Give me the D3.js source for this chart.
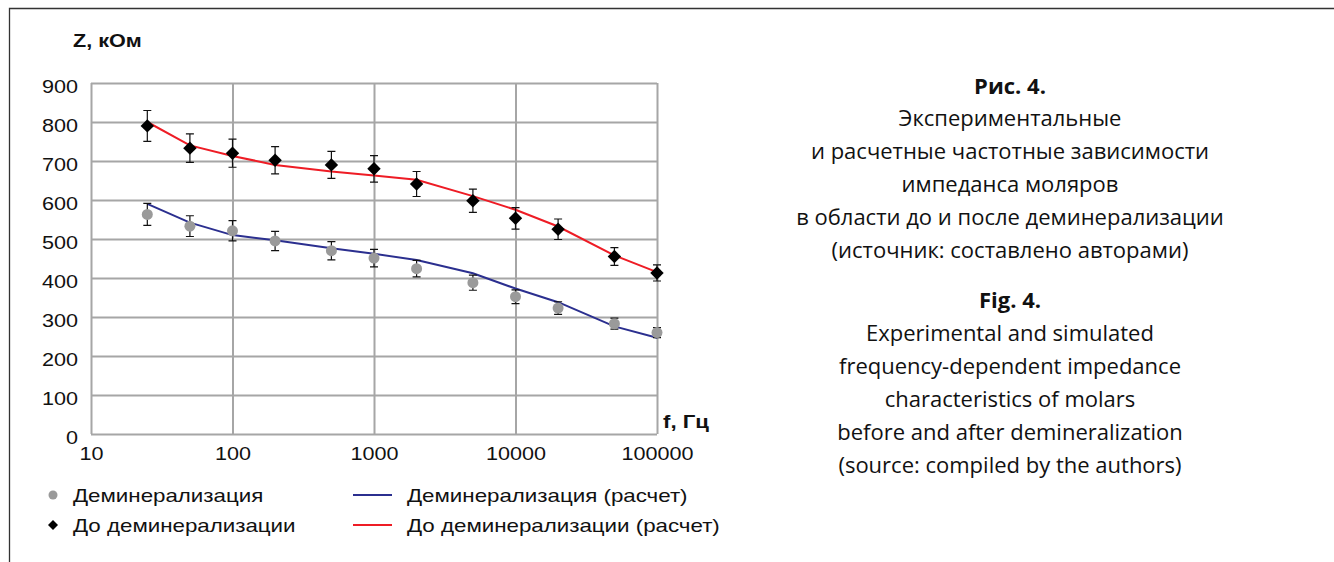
<!DOCTYPE html>
<html>
<head>
<meta charset="utf-8">
<script src="https://cdn.jsdelivr.net/npm/d3@7"></script>
<style>
  html, body { margin: 0; padding: 0; background: #fff; }
  svg { display: block; }
  .chart-text { font-family: "Liberation Sans", Arial, sans-serif; fill: #111; }
  .caption { font-family: "Open Sans", "Noto Sans", sans-serif; fill: #111; }
</style>
</head>
<body>
<svg id="fig" width="1334" height="562"></svg>
<script>
// Frequencies, Hz
const freq = [25, 50, 100, 200, 500, 1000, 2000, 5000, 10000, 20000, 50000, 100000];

// Impedance, kOhm
const beforeMeasured = [790, 733, 720, 702, 690, 680, 641, 598, 553, 525, 455, 413];
const beforeCalc     = [800, 740, 713, 690, 673, 663, 652, 610, 575, 532, 458, 415];
const afterMeasured  = [563, 533, 521, 495, 470, 451, 424, 388, 352, 323, 283, 260];
const afterCalc      = [590, 542, 510, 497, 476, 462, 446, 412, 373, 338, 276, 247];

// Relative error of the measurements
const errorShare = 0.05;

const xTicks = [10, 100, 1000, 10000, 100000];
const yTicks = [0, 100, 200, 300, 400, 500, 600, 700, 800, 900];

const legendItems = [
  { label: "Деминерализация", kind: "circle" },
  { label: "До деминерализации", kind: "diamond" },
  { label: "Деминерализация (расчет)", kind: "line", color: "#2b2f8f" },
  { label: "До деминерализации (расчет)", kind: "line", color: "#ee1c25" }
];

const captionRu = [
  "Экспериментальные",
  "и расчетные частотные зависимости",
  "импеданса моляров",
  "в области до и после деминерализации",
  "(источник: составлено авторами)"
];
const captionEn = [
  "Experimental and simulated",
  "frequency-dependent impedance",
  "characteristics of molars",
  "before and after demineralization",
  "(source: compiled by the authors)"
];

const svg = d3.select("#fig");
const stretch = 1.2;          // chart lettering is set slightly wide
const plot = { left: 91, right: 657, top: 83, bottom: 434 };

const x = d3.scaleLog().domain([10, 100000]).range([plot.left, plot.right]);
const y = d3.scaleLinear().domain([0, 900]).range([plot.bottom, plot.top]);

// Outer frame (left and top edges)
svg.append("path")
  .attr("d", `M9.5,562 V8.5 H1334`)
  .attr("fill", "none").attr("stroke", "#333").attr("stroke-width", 1.3);

const gridColor = "#a6a6a6";

// Horizontal grid + y labels
const yAxis = svg.append("g")
  .attr("transform", `translate(${plot.left},0)`)
  .call(d3.axisLeft(y).tickValues(yTicks).tickSize(-(plot.right - plot.left)).tickPadding(0).tickFormat(d3.format("d")));
yAxis.select(".domain").remove();
yAxis.selectAll(".tick line").attr("stroke", gridColor).attr("stroke-width", 2);
yAxis.selectAll(".tick text")
  .attr("class", "chart-text")
  .attr("x", -13 / stretch).attr("y", 9.5).attr("dy", 0)
  .attr("transform", `scale(${stretch},1)`)
  .style("font-size", "18px").attr("fill", "#111");

// Vertical grid + x labels
const xAxis = svg.append("g")
  .attr("transform", `translate(0,${plot.bottom})`)
  .call(d3.axisBottom(x).tickValues(xTicks).tickSize(-(plot.bottom - plot.top)).tickPadding(0).tickFormat(d3.format("d")));
xAxis.select(".domain").remove();
xAxis.selectAll(".tick line").attr("stroke", gridColor).attr("stroke-width", 2);
xAxis.selectAll(".tick text")
  .attr("class", "chart-text")
  .attr("x", 0).attr("y", 26).attr("dy", 0)
  .attr("transform", `scale(${stretch},1)`)
  .style("font-size", "18px").attr("fill", "#111");

// Stretched chart lettering
function stretchedText(parent, tx, ty, str, opts = {}) {
  return parent.append("text")
    .attr("class", "chart-text")
    .attr("transform", `translate(${tx},${ty}) scale(${stretch},1)`)
    .attr("text-anchor", opts.anchor || "start")
    .style("font-size", (opts.size || 18) + "px")
    .style("font-weight", opts.weight || "normal")
    .text(str);
}

// Axis titles
stretchedText(svg, 73, 47, "Z, кОм", { weight: "bold", size: 18 });
stretchedText(svg, 663, 428, "f, Гц", { weight: "bold", size: 18.5 });

// Calculated curves
const line = d3.line().x(d => x(d[0])).y(d => y(d[1]));
svg.append("path")
  .datum(d3.zip(freq, afterCalc))
  .attr("d", line).attr("fill", "none").attr("stroke", "#2b2f8f").attr("stroke-width", 2);
svg.append("path")
  .datum(d3.zip(freq, beforeCalc))
  .attr("d", line).attr("fill", "none").attr("stroke", "#ee1c25").attr("stroke-width", 2);

// Error bars
function errorBars(values) {
  const g = svg.append("g").attr("stroke", "#111").attr("stroke-width", 1.2).attr("fill", "none");
  values.forEach((v, i) => {
    const cx = x(freq[i]);
    const hi = y(v * (1 + errorShare));
    const lo = y(v * (1 - errorShare));
    g.append("path").attr("d", `M${cx},${hi} V${lo} M${cx - 4},${hi} H${cx + 4} M${cx - 4},${lo} H${cx + 4}`);
  });
}
errorBars(afterMeasured);
errorBars(beforeMeasured);

// Measured points
svg.append("g").selectAll("circle")
  .data(afterMeasured).join("circle")
  .attr("cx", (d, i) => x(freq[i])).attr("cy", d => y(d))
  .attr("r", 5.5).attr("fill", "#9a9a9a");

const diamond = d3.symbol().type(d3.symbolSquare).size(90);
svg.append("g").selectAll("path")
  .data(beforeMeasured).join("path")
  .attr("d", diamond)
  .attr("transform", (d, i) => `translate(${x(freq[i])},${y(d)}) rotate(45)`)
  .attr("fill", "#000");

// Legend
const legendPos = [
  { sx: 53, tx: 73, cy: 495 },
  { sx: 53, tx: 73, cy: 525 },
  { sx: 353, tx: 407, cy: 495 },
  { sx: 353, tx: 407, cy: 525 }
];
legendItems.forEach((item, i) => {
  const p = legendPos[i];
  if (item.kind === "circle") {
    svg.append("circle").attr("cx", p.sx).attr("cy", p.cy).attr("r", 4.5).attr("fill", "#9a9a9a");
  } else if (item.kind === "diamond") {
    svg.append("path").attr("d", d3.symbol().type(d3.symbolSquare).size(50))
      .attr("transform", `translate(${p.sx},${p.cy}) rotate(45)`).attr("fill", "#000");
  } else {
    svg.append("line").attr("x1", p.sx).attr("x2", p.sx + 39).attr("y1", p.cy).attr("y2", p.cy)
      .attr("stroke", item.color).attr("stroke-width", 2);
  }
  stretchedText(svg, p.tx, p.cy + 6.5, item.label, { size: 18.6 });
});

// Figure caption
const capX = 1010;
const cap = svg.append("g").attr("class", "caption").attr("text-anchor", "middle").style("font-size", "22px");
cap.append("text").attr("x", capX).attr("y", 94).style("font-weight", "bold").text("Рис. 4.");
captionRu.forEach((s, i) => cap.append("text").attr("x", capX).attr("y", 126 + i * 33).text(s));
cap.append("text").attr("x", capX).attr("y", 308).style("font-weight", "bold").text("Fig. 4.");
captionEn.forEach((s, i) => cap.append("text").attr("x", capX).attr("y", 341 + i * 33).text(s));
</script>
</body>
</html>
